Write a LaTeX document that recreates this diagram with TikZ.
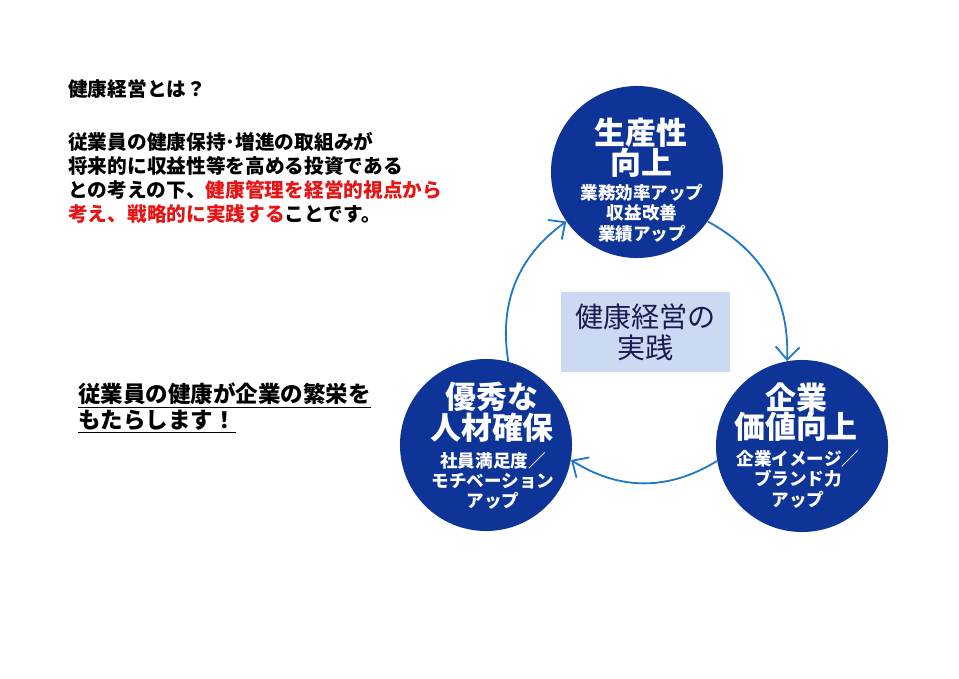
\documentclass[tikz,border=0pt]{standalone}
\usepackage{fontspec}
\setmainfont{Noto Sans CJK JP}
\usetikzlibrary{arrows.meta}

\definecolor{circblue}{RGB}{13,52,150}
\definecolor{arrowblue}{RGB}{30,122,200}
\definecolor{boxblue}{RGB}{204,217,242}
\definecolor{boxtext}{RGB}{26,28,80}
\definecolor{keyred}{RGB}{230,20,20}

\begin{document}
\begin{tikzpicture}[x=0.025cm,y=-0.025cm,
  goal/.style={circle,fill=circblue,minimum size=4.3cm,inner sep=0pt},
  goaltitle/.style={text=white,align=center,inner sep=0pt,
    font=\bfseries\fontsize{22}{21}\selectfont},
  goalnote/.style={text=white,align=center,inner sep=0pt,
    font=\bfseries\fontsize{12.5}{14.5}\selectfont},
  turn/.style={arrowblue,line width=1.3pt,
    -{Straight Barb[length=3.2mm,width=6mm]}},
  lefttext/.style={anchor=west,align=left,inner sep=0pt,
    font=\bfseries\fontsize{14}{17}\selectfont}]
  \useasboundingbox (0,0) rectangle (959,678);

  % Left column
  \node[lefttext] (q) at (68,89) {健康経営とは？};
  \node[lefttext] (def) at (68,178) {従業員の健康保持･増進の取組みが\\
    将来的に収益性等を高める投資である\\
    との考えの下、\textcolor{keyred}{健康管理を経営的視点から}\\
    \textcolor{keyred}{考え、戦略的に実践する}ことです。};
  \node[lefttext,font=\bfseries\fontsize{16}{18}\selectfont] (msg) at (78,408)
    {\underline{従業員の健康が企業の繁栄を}\\\underline{もたらします！}};

  % Circles
  \node[goal] (sp) at (637,172) {};
  \node[goal] (kg) at (802,446) {};
  \node[goal] (jz) at (486,445) {};

  \node[goaltitle] (sp-t) at (641,148) {生産性\\向上};
  \node[goalnote]  (sp-n) at (642,213) {業務効率アップ\\収益改善\\業績アップ};
  \node[goaltitle] (jz-t) at (492,412) {優秀な\\人材確保};
  \node[goalnote]  (jz-n) at (493,481) {社員満足度／\\モチベーション\\アップ};
  \node[goaltitle] (kg-t) at (796,412) {企業\\価値向上};
  \node[goalnote]  (kg-n) at (798,479) {企業イメージ／\\ブランド力\\アップ};

  % Centre
  \node[fill=boxblue,text=boxtext,align=center,inner sep=0pt,
    minimum width=4.225cm,minimum height=2cm,
    font=\fontsize{20}{22}\selectfont] (core) at (645.5,332) {健康経営の\\実践};

  % Cycle
  \draw[turn] (jz.75) to[bend left=32] (sp.215);
  \draw[turn] (sp.-35) to[bend left=32] (kg.100);
  \draw[turn] (kg.190) to[bend left=32] (jz.-10);

\end{tikzpicture}
\end{document}
